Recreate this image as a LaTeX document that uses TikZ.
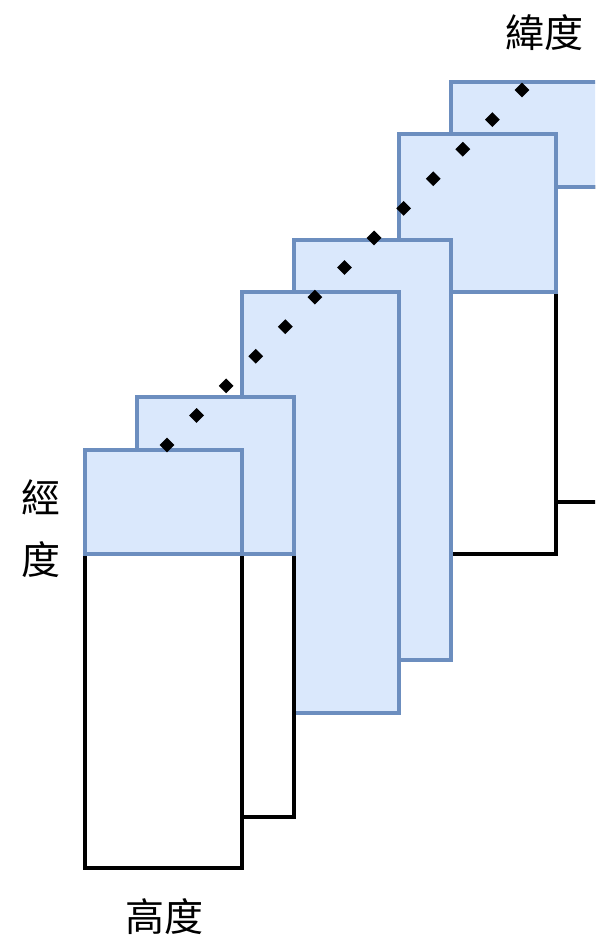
\documentclass[tikz,border=0pt]{standalone}
\usepackage{fontspec}
\newfontfamily\cjk{Noto Sans CJK TC}
\usetikzlibrary{shapes.geometric}
\definecolor{bfill}{HTML}{DAE8FC}
\definecolor{bline}{HTML}{6C8EBF}
\tikzset{
  bluebox/.style={fill=bfill,draw=bline,line width=3.5pt},
  whitebox/.style={fill=white,draw=black,line width=3.5pt},
  dot/.style={diamond,fill=black,inner sep=0pt,minimum width=15pt,minimum height=15pt},
  lbl/.style={font=\cjk\fontsize{39}{62}\selectfont,inner sep=0pt,align=center}
}
\begin{document}
\begin{tikzpicture}[x=1pt,y=-1pt]
\useasboundingbox (0,0) rectangle (595,940);
\clip (0,0) rectangle (595,940);
% group 6 (back)
\draw[whitebox] (451,187) rectangle (610,502);
\draw[bluebox] (451,82) rectangle (610,187);
% group 5
\draw[whitebox] (399,292) rectangle (556,554);
\draw[bluebox] (399,134) rectangle (556,292);
% group 4
\draw[bluebox] (294,240) rectangle (451,660);
% group 3
\draw[bluebox] (242,292) rectangle (399,713);
% group 2
\draw[whitebox] (137,554) rectangle (294,817);
\draw[bluebox] (137,397) rectangle (294,554);
% group 1 (front)
\draw[whitebox] (85,554) rectangle (242,868);
\draw[bluebox] (85,450) rectangle (242,554);
% diamonds
\foreach \i in {0,...,12}{
  \node[dot] (d\i) at ({167+\i*29.583},{445-\i*29.583}) {};
}
% labels
\node[lbl] (lat) at (544,33) {緯度};
\node[lbl] (lon) at (41,529) {經\\度};
\node[lbl] (alt) at (164,917) {高度};
\end{tikzpicture}
\end{document}
